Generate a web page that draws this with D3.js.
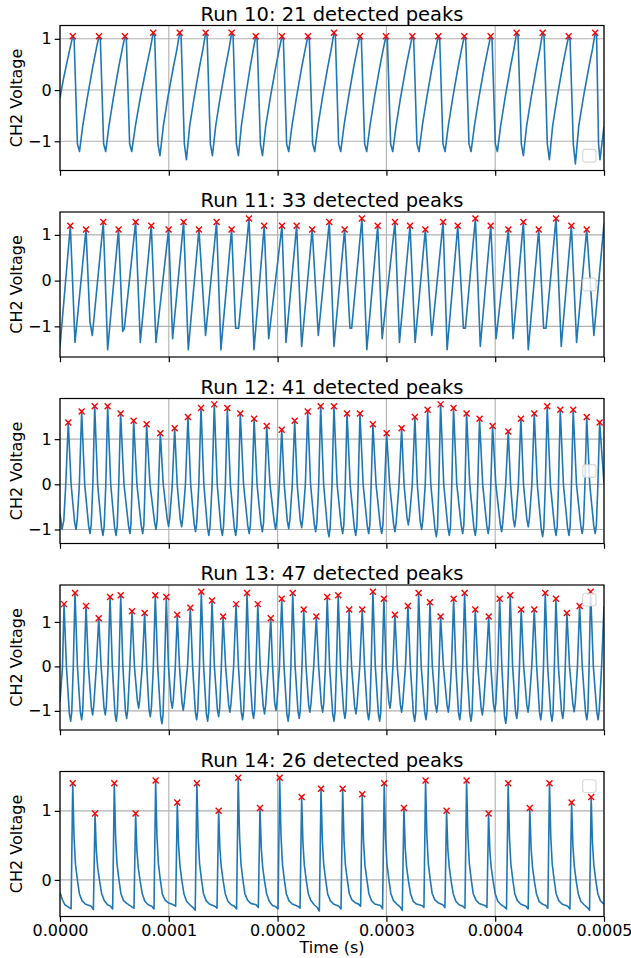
<!DOCTYPE html>
<html>
<head>
<meta charset="utf-8">
<script src="https://cdn.jsdelivr.net/npm/d3@7"></script>
<style>
  body { margin: 0; background: #fff; }
  text { font-family: "DejaVu Sans", sans-serif; }
</style>
</head>
<body>
<svg id="chart"></svg>
<script>
// time in microseconds, voltage in V

const runIds = [10, 11, 12, 13, 14];
const xTicks = [0, 0.0001, 0.0002, 0.0003, 0.0004, 0.0005];
const yTicks = [[-1, 0, 1], [-1, 0, 1], [-1, 0, 1], [-1, 0, 1], [0, 1]];
const yLimits = [[-1.57, 1.26], [-1.67, 1.50], [-1.31, 1.90], [-1.43, 1.83], [-0.53, 1.57]];
const legendLoc = ["lower right", "center right", "center right", "upper right", "upper right"];

const run10PeakTimes = [11.7,35.8,59.7,85.7,110.0,133.9,157.8,179.9,204.0,227.9,251.8,275.7,299.6,323.8,347.7,371.6,395.8,419.7,443.6,467.5,491.9];
const run10PeakVolts = [1.05,1.05,1.05,1.12,1.12,1.12,1.12,1.05,1.05,1.05,1.12,1.05,1.05,1.05,1.05,1.05,1.05,1.12,1.12,1.05,1.12];
const run10Trace = [
  [0,-0.15],[3,0.2],[6,0.5],[9,0.8],
  [11.7,1.05],[13.0,0.98],[16.0,-1.05],[17.9,-1.2],[20.9,-0.7],[25.1,-0.15],[30.1,0.45],[33.3,0.8],
  [35.8,1.05],[37.1,0.98],[40.1,-1.05],[42.0,-1.2],[45.0,-0.7],[49.1,-0.15],[54.0,0.45],[57.2,0.8],
  [59.7,1.05],[61.0,0.98],[64.0,-1.05],[65.9,-1.2],[69.3,-0.7],[73.8,-0.15],[79.4,0.45],[82.9,0.8],
  [85.7,1.12],[87.0,1.05],[90.0,-1.05],[91.9,-1.28],[95.0,-0.7],[99.1,-0.15],[104.2,0.45],[107.5,0.8],
  [110.0,1.12],[111.3,1.05],[114.3,-1.05],[116.2,-1.36],[119.2,-0.7],[123.3,-0.15],[128.2,0.45],[131.4,0.8],
  [133.9,1.12],[135.2,1.05],[138.2,-1.05],[140.1,-1.28],[143.1,-0.7],[147.2,-0.15],[152.1,0.45],[155.3,0.8],
  [157.8,1.12],[159.1,1.05],[162.1,-1.05],[164.0,-1.28],[166.7,-0.7],[170.4,-0.15],[174.8,0.45],[177.7,0.8],
  [179.9,1.05],[181.2,0.98],[184.2,-1.05],[186.1,-1.28],[189.1,-0.7],[193.3,-0.15],[198.3,0.45],[201.5,0.8],
  [204.0,1.05],[205.3,0.98],[208.3,-1.05],[210.2,-1.2],[213.2,-0.7],[217.3,-0.15],[222.2,0.45],[225.4,0.8],
  [227.9,1.05],[229.2,0.98],[232.2,-1.05],[234.1,-1.2],[237.1,-0.7],[241.2,-0.15],[246.1,0.45],[249.3,0.8],
  [251.8,1.12],[253.1,1.05],[256.1,-1.05],[258.0,-1.2],[261.0,-0.7],[265.1,-0.15],[270.0,0.45],[273.2,0.8],
  [275.7,1.05],[277.0,0.98],[280.0,-1.05],[281.9,-1.2],[284.9,-0.7],[289.0,-0.15],[293.9,0.45],[297.1,0.8],
  [299.6,1.05],[300.9,0.98],[303.9,-1.05],[305.8,-1.2],[308.9,-0.7],[313.0,-0.15],[318.0,0.45],[321.3,0.8],
  [323.8,1.05],[325.1,0.98],[328.1,-1.05],[330.0,-1.2],[333.0,-0.7],[337.1,-0.15],[342.0,0.45],[345.2,0.8],
  [347.7,1.05],[349.0,0.98],[352.0,-1.05],[353.9,-1.2],[356.9,-0.7],[361.0,-0.15],[365.9,0.45],[369.1,0.8],
  [371.6,1.05],[372.9,0.98],[375.9,-1.05],[377.8,-1.2],[380.9,-0.7],[385.0,-0.15],[390.0,0.45],[393.3,0.8],
  [395.8,1.05],[397.1,0.98],[400.1,-1.05],[402.0,-1.2],[405.0,-0.7],[409.1,-0.15],[414.0,0.45],[417.2,0.8],
  [419.7,1.12],[421.0,1.05],[424.0,-1.05],[425.9,-1.28],[428.9,-0.7],[433.0,-0.15],[437.9,0.45],[441.1,0.8],
  [443.6,1.12],[444.9,1.05],[447.9,-1.05],[449.8,-1.36],[452.8,-0.7],[456.9,-0.15],[461.8,0.45],[465.0,0.8],
  [467.5,1.05],[468.8,0.98],[471.8,-1.05],[473.7,-1.44],[476.8,-0.7],[481.0,-0.15],[486.1,0.45],[489.4,0.8],
  [491.9,1.12],[493.2,1.05],[495.0,-1.05],[496.3,-1.36],[500,-0.71]
];

const run11PeakTimes = [9.5,23.9,39.8,53.8,69.5,83.9,99.8,113.6,127.7,143.9,157.7,173.7,187.7,204.0,217.5,231.8,247.5,261.6,277.5,292.0,307.9,321.7,335.8,352.1,365.6,381.8,395.9,412.1,425.9,440.0,455.9,470.0,484.1];
const run11PeakVolts = [1.20,1.12,1.28,1.12,1.28,1.20,1.12,1.28,1.12,1.28,1.12,1.36,1.20,1.20,1.20,1.12,1.28,1.12,1.36,1.20,1.28,1.20,1.12,1.28,1.20,1.36,1.20,1.12,1.28,1.12,1.36,1.20,1.12];
const run11Trace = [
  [0,-1.44],[9.5,1.20],[13.8,-1.35],[23.9,1.12],[27.5,-0.89],[29.7,-1.2],[39.8,1.28],[43.8,-1.51],
  [53.8,1.12],[57.6,-1.11],[59.1,-1.05],[69.5,1.28],[73.8,-1.35],[83.9,1.20],[88.2,-1.35],[99.8,1.12],
  [103.5,-1.27],[113.6,1.28],[117.9,-1.51],[127.7,1.12],[133.8,-1.2],[143.9,1.28],[147.9,-1.51],[157.7,1.12],
  [161.4,-1.04],[164.2,-1.04],[173.7,1.36],[178.3,-1.51],[187.7,1.20],[191.8,-1.27],[204.0,1.20],[207.7,-1.35],
  [217.5,1.20],[222.1,-1.44],[231.8,1.12],[237.4,-1.2],[247.5,1.28],[251.8,-1.44],[261.6,1.12],[266.5,-1.04],
  [268.1,-1.04],[277.5,1.36],[282.0,-1.51],[292.0,1.20],[296.1,-1.27],[307.9,1.28],[312.0,-1.35],[321.7,1.20],
  [326.4,-1.35],[335.8,1.12],[341.7,-1.2],[352.1,1.28],[355.8,-1.51],[365.6,1.20],[370.8,-1.04],[372.6,-1.04],
  [381.8,1.36],[386.3,-1.44],[395.9,1.20],[400.8,-1.27],[412.1,1.12],[416.4,-1.27],[425.9,1.28],[430.4,-1.51],
  [440.0,1.12],[444.5,-1.04],[446.7,-1.04],[455.9,1.36],[460.7,-1.44],[470.0,1.20],[474.8,-1.35],[484.1,1.12],
  [490.7,-1.2],[500,1.25]
];

const run12PeakTimes = [7.6,19.9,31.9,43.8,55.7,67.7,79.6,92.2,105.4,117.6,129.6,141.8,153.8,165.7,178.4,190.0,203.8,215.7,227.7,239.6,251.8,263.8,275.7,287.6,300.2,314.0,326.2,337.9,349.8,361.7,373.7,385.6,397.6,412.0,423.6,435.9,447.8,459.8,471.7,484.1,496.0];
const run12PeakVolts = [1.37,1.61,1.73,1.73,1.57,1.41,1.33,1.13,1.24,1.49,1.69,1.77,1.69,1.57,1.45,1.29,1.21,1.41,1.61,1.73,1.73,1.57,1.57,1.33,1.13,1.24,1.49,1.65,1.77,1.69,1.57,1.45,1.29,1.17,1.45,1.57,1.73,1.65,1.65,1.49,1.37];
const run12Trace = [
  [0,-0.64],[1.8,-1.0],[3.5,-0.8],[5.3,0],
  [7.6,1.37],[10.2,0],[13.4,-0.83],[14.7,-1.0],[15.8,-0.8],[17.8,0],
  [19.9,1.61],[22.7,0],[26.3,-0.92],[27.6,-1.09],[28.7,-0.89],[30.2,0],
  [31.9,1.73],[34.6,0],[38.2,-0.96],[39.5,-1.13],[40.6,-0.93],[42.1,0],
  [43.8,1.73],[46.6,0],[50.2,-0.96],[51.5,-1.13],[52.6,-0.93],[54.0,0],
  [55.7,1.57],[58.8,0],[63.0,-0.92],[64.3,-1.09],[65.2,-0.89],[66.3,0],
  [67.7,1.41],[70.7,0],[74.7,-0.92],[76.0,-1.09],[77.1,-0.89],[78.2,0],
  [79.6,1.33],[82.7,0],[86.9,-0.83],[88.2,-1.0],[89.3,-0.8],[90.6,0],
  [92.2,1.13],[94.9,0],[98.5,-0.76],[99.8,-0.93],[100.9,-0.73],[103.2,0],
  [105.4,1.24],[107.7,0],[110.5,-0.77],[111.8,-0.94],[112.9,-0.74],[115.3,0],
  [117.6,1.49],[120.1,0],[123.3,-0.88],[124.6,-1.05],[125.7,-0.85],[127.6,0],
  [129.6,1.69],[132.2,0],[135.5,-0.96],[136.8,-1.13],[137.9,-0.93],[139.8,0],
  [141.8,1.77],[144.5,0],[147.9,-0.96],[149.2,-1.13],[150.3,-0.93],[152.0,0],
  [153.8,1.69],[156.6,0],[160.2,-0.96],[161.5,-1.13],[162.6,-0.93],[164.0,0],
  [165.7,1.57],[168.7,0],[172.6,-0.92],[173.9,-1.09],[175.0,-0.89],[176.6,0],
  [178.4,1.45],[181.1,0],[184.7,-0.88],[186.0,-1.05],[187.1,-0.85],[188.4,0],
  [190.0,1.29],[193.0,0],[196.9,-0.83],[198.2,-1.0],[199.3,-0.8],[201.6,0],
  [203.8,1.21],[206.1,0],[208.9,-0.81],[210.2,-0.98],[211.3,-0.78],[213.5,0],
  [215.7,1.41],[218.0,0],[220.8,-0.79],[222.1,-0.96],[223.2,-0.76],[225.5,0],
  [227.7,1.61],[230.3,0],[233.7,-0.88],[235.0,-1.05],[236.1,-0.85],[237.8,0],
  [239.6,1.73],[242.3,0],[245.9,-0.99],[247.2,-1.16],[248.3,-0.96],[250.0,0],
  [251.8,1.73],[254.7,0],[258.5,-0.92],[259.8,-1.09],[260.9,-0.89],[262.2,0],
  [263.8,1.57],[266.7,0],[270.5,-0.96],[271.8,-1.13],[272.9,-0.93],[274.1,0],
  [275.7,1.57],[278.6,0],[282.4,-0.92],[283.7,-1.09],[284.8,-0.89],[286.0,0],
  [287.6,1.33],[290.5,0],[294.4,-0.92],[295.7,-1.09],[296.8,-0.89],[298.4,0],
  [300.2,1.13],[303.0,0],[306.6,-0.88],[307.9,-1.05],[309.0,-0.85],[311.6,0],
  [314.0,1.24],[316.2,0],[318.9,-0.73],[320.2,-0.9],[321.3,-0.7],[323.8,0],
  [326.2,1.49],[328.4,0],[331.1,-0.83],[332.4,-1.0],[333.5,-0.8],[335.7,0],
  [337.9,1.65],[340.8,0],[344.6,-0.99],[345.9,-1.16],[347.0,-0.96],[348.2,0],
  [349.8,1.77],[352.7,0],[356.5,-0.96],[357.8,-1.13],[358.9,-0.93],[360.1,0],
  [361.7,1.69],[364.7,0],[368.8,-0.92],[370.1,-1.09],[371.2,-0.89],[372.3,0],
  [373.7,1.57],[376.6,0],[380.4,-0.96],[381.7,-1.13],[382.8,-0.93],[384.0,0],
  [385.6,1.45],[388.5,0],[392.3,-0.92],[393.6,-1.09],[394.7,-0.89],[396.0,0],
  [397.6,1.29],[400.6,0],[404.6,-0.88],[405.9,-1.05],[407.0,-0.85],[409.6,0],
  [412.0,1.17],[414.1,0],[416.6,-0.77],[417.9,-0.94],[419.0,-0.74],[421.3,0],
  [423.6,1.45],[426.0,0],[429.1,-0.77],[430.4,-0.94],[431.5,-0.74],[433.7,0],
  [435.9,1.57],[438.7,0],[442.3,-0.99],[443.6,-1.16],[444.7,-0.96],[446.1,0],
  [447.8,1.73],[450.7,0],[454.6,-0.96],[455.9,-1.13],[457.0,-0.93],[458.2,0],
  [459.8,1.65],[462.7,0],[466.5,-0.96],[467.8,-1.13],[468.9,-0.93],[470.1,0],
  [471.7,1.65],[474.7,0],[478.7,-0.92],[480.0,-1.09],[481.1,-0.89],[482.5,0],
  [484.1,1.49],[486.9,0],[490.6,-0.92],[491.9,-1.09],[493.0,-0.89],[494.4,0],
  [496.0,1.37],[500,0.02]
];

const run13PeakTimes = [3.7,13.8,23.9,35.6,46.0,55.8,66.2,77.8,87.6,97.7,107.8,119.8,129.9,139.7,149.9,161.8,171.9,181.8,193.7,203.8,213.9,224.0,235.6,245.6,255.7,265.8,277.8,287.6,297.7,307.8,319.8,329.6,340.0,349.8,361.8,371.9,381.7,394.0,404.1,413.8,423.9,435.9,446.0,455.8,465.9,477.6,487.7];
const run13PeakVolts = [1.40,1.65,1.36,1.08,1.56,1.60,1.24,1.20,1.60,1.56,1.16,1.32,1.68,1.48,1.12,1.40,1.65,1.40,1.08,1.52,1.65,1.28,1.12,1.56,1.60,1.28,1.28,1.68,1.52,1.16,1.36,1.65,1.44,1.12,1.52,1.65,1.28,1.12,1.52,1.60,1.28,1.28,1.65,1.52,1.20,1.36,1.68];
const run13Trace = [
  [0,-0.8],[2.3,0],
  [3.7,1.40],[5.9,0],[8.6,-1.06],[9.8,-1.23],[10.8,-1.03],[12.2,0],
  [13.8,1.65],[16.0,0],[18.7,-1.03],[19.9,-1.20],[20.9,-1.0],[22.3,0],
  [23.9,1.36],[26.1,0],[28.8,-0.92],[30.0,-1.09],[31.0,-0.89],[33.4,0],
  [35.6,1.08],[37.8,0],[40.4,-0.92],[41.6,-1.09],[42.6,-0.89],[44.2,0],
  [46.0,1.56],[48.1,0],[50.5,-1.06],[51.7,-1.23],[52.7,-1.03],[54.2,0],
  [55.8,1.60],[57.8,0],[60.1,-1.0],[61.3,-1.17],[62.3,-0.97],[64.2,0],
  [66.2,1.24],[68.4,0],[71.1,-0.77],[72.3,-0.94],[73.3,-0.74],[75.6,0],
  [77.8,1.20],[79.7,0],[81.8,-0.96],[83.0,-1.13],[84.0,-0.93],[85.8,0],
  [87.6,1.60],[89.8,0],[92.5,-1.12],[93.7,-1.29],[94.7,-1.09],[96.1,0],
  [97.7,1.56],[99.7,0],[102.0,-0.77],[103.2,-0.94],[104.2,-0.74],[106.0,0],
  [107.8,1.16],[109.8,0],[112.1,-0.82],[113.3,-0.99],[114.3,-0.79],[117.2,0],
  [119.8,1.32],[121.9,0],[124.4,-1.03],[125.6,-1.20],[126.6,-1.0],[128.2,0],
  [129.9,1.68],[132.0,0],[134.5,-1.06],[135.7,-1.23],[136.7,-1.03],[138.1,0],
  [139.7,1.48],[141.9,0],[144.6,-0.96],[145.8,-1.13],[146.8,-0.93],[148.3,0],
  [149.9,1.12],[152.2,0],[155.0,-0.86],[156.2,-1.03],[157.2,-0.83],[159.6,0],
  [161.8,1.40],[164.0,0],[166.6,-1.03],[167.8,-1.20],[168.8,-1.0],[170.3,0],
  [171.9,1.65],[174.1,0],[176.7,-1.0],[177.9,-1.17],[178.9,-0.97],[180.2,0],
  [181.8,1.40],[184.0,0],[186.8,-0.9],[188.0,-1.07],[189.0,-0.87],[191.4,0],
  [193.7,1.08],[195.4,0],[197.3,-0.82],[198.5,-0.99],[199.5,-0.79],[201.7,0],
  [203.8,1.52],[205.9,0],[208.5,-1.06],[209.7,-1.23],[210.7,-1.03],[212.2,0],
  [213.9,1.65],[216.1,0],[218.7,-1.0],[219.9,-1.17],[220.9,-0.97],[222.4,0],
  [224.0,1.28],[226.1,0],[228.5,-0.86],[229.7,-1.03],[230.7,-0.83],[233.2,0],
  [235.6,1.12],[237.7,0],[240.2,-0.86],[241.4,-1.03],[242.4,-0.83],[243.9,0],
  [245.6,1.56],[247.8,0],[250.6,-1.06],[251.8,-1.23],[252.8,-1.03],[254.1,0],
  [255.7,1.60],[257.9,0],[260.7,-1.0],[261.9,-1.17],[262.9,-0.97],[264.2,0],
  [265.8,1.28],[268.0,0],[270.8,-0.9],[272.0,-1.07],[273.0,-0.87],[275.5,0],
  [277.8,1.28],[279.9,0],[282.5,-1.03],[283.7,-1.20],[284.7,-1.0],[286.0,0],
  [287.6,1.68],[289.8,0],[292.6,-1.06],[293.8,-1.23],[294.8,-1.03],[296.1,0],
  [297.7,1.52],[299.7,0],[302.1,-0.77],[303.3,-0.94],[304.3,-0.74],[306.0,0],
  [307.8,1.16],[310.0,0],[312.8,-0.86],[314.0,-1.03],[315.0,-0.83],[317.5,0],
  [319.8,1.36],[322.0,0],[324.8,-1.06],[326.0,-1.23],[327.0,-1.03],[328.2,0],
  [329.6,1.65],[332.0,0],[335.2,-1.03],[336.4,-1.20],[337.4,-1.0],[338.6,0],
  [340.0,1.44],[342.2,0],[345.0,-0.86],[346.2,-1.03],[347.2,-0.83],[348.4,0],
  [349.8,1.12],[352.4,0],[355.7,-0.86],[356.9,-1.03],[357.9,-0.83],[359.8,0],
  [361.8,1.52],[363.8,0],[366.2,-1.03],[367.4,-1.20],[368.4,-1.0],[370.1,0],
  [371.9,1.65],[374.0,0],[376.6,-1.06],[377.8,-1.23],[378.8,-1.03],[380.1,0],
  [381.7,1.28],[384.0,0],[387.0,-0.92],[388.2,-1.09],[389.2,-0.89],[391.7,0],
  [394.0,1.12],[396.0,0],[398.4,-0.85],[399.6,-1.02],[400.6,-0.82],[402.3,0],
  [404.1,1.52],[406.1,0],[408.5,-1.11],[409.7,-1.28],[410.7,-1.08],[412.2,0],
  [413.8,1.60],[416.0,0],[418.6,-1.0],[419.8,-1.17],[420.8,-0.97],[422.3,0],
  [423.9,1.28],[426.2,0],[429.0,-0.86],[430.2,-1.03],[431.2,-0.83],[433.6,0],
  [435.9,1.28],[438.1,0],[440.7,-1.03],[441.9,-1.20],[442.9,-1.0],[444.4,0],
  [446.0,1.65],[448.2,0],[451.0,-1.06],[452.2,-1.23],[453.2,-1.03],[454.4,0],
  [455.8,1.52],[458.1,0],[460.9,-1.0],[462.1,-1.17],[463.1,-0.97],[464.4,0],
  [465.9,1.20],[468.3,0],[471.4,-0.85],[472.6,-1.02],[473.6,-0.82],[475.6,0],
  [477.6,1.36],[480.0,0],[483.0,-1.03],[484.2,-1.20],[485.2,-1.0],[486.3,0],
  [487.7,1.68],[490.2,0],[493.4,-1.03],[494.6,-1.20],[495.6,-1.0],[497.8,0],[500,1.35]
];

const run14PeakTimes = [11.7,32.2,49.9,69.5,87.9,107.8,125.8,145.8,163.8,183.8,201.9,222.1,239.9,259.8,277.8,298.0,316.1,336.0,355.3,373.7,393.9,411.9,431.8,449.9,470.2,488.2];
const run14PeakVolts = [1.40,0.96,1.40,0.96,1.44,1.12,1.40,1.0,1.48,1.04,1.48,1.20,1.32,1.32,1.24,1.40,1.04,1.44,1.0,1.44,0.96,1.40,1.04,1.40,1.12,1.20];
const run14Trace = [
  [0,-0.18],[2,-0.28],[4.5,-0.36],[7.5,-0.39],[10.2,-0.42],
  [11.7,1.40],[12.9,0.62],[14.2,0.23],[16.0,0],[17.8,-0.2],[20.2,-0.3],[23.2,-0.35],[28.7,-0.38],[30.7,-0.43],
  [32.2,0.96],[33.4,0.42],[34.7,0.17],[36.5,-0.03],[38.3,-0.2],[40.7,-0.3],[43.7,-0.36],[46.4,-0.38],[48.4,-0.42],
  [49.9,1.40],[51.1,0.62],[52.4,0.23],[54.2,0],[56.0,-0.2],[58.4,-0.3],[61.4,-0.34],[66.0,-0.39],[68.0,-0.41],
  [69.5,0.96],[70.7,0.42],[72.0,0.17],[73.8,-0.03],[75.6,-0.2],[78.0,-0.31],[81.0,-0.36],[84.4,-0.38],[86.4,-0.42],
  [87.9,1.44],[89.1,0.64],[90.4,0.24],[92.2,0],[94.0,-0.2],[96.4,-0.29],[99.4,-0.33],[104.3,-0.36],[106.3,-0.38],
  [107.8,1.12],[109.0,0.5],[110.3,0.2],[112.1,-0.02],[113.9,-0.2],[116.3,-0.31],[119.3,-0.36],[122.3,-0.4],[124.3,-0.44],
  [125.8,1.40],[127.0,0.62],[128.3,0.23],[130.1,0],[131.9,-0.2],[134.3,-0.3],[137.3,-0.35],[142.3,-0.38],[144.3,-0.41],
  [145.8,1.0],[147.0,0.44],[148.3,0.18],[150.1,-0.03],[151.9,-0.2],[154.3,-0.31],[157.3,-0.36],[160.3,-0.38],[162.3,-0.42],
  [163.8,1.48],[165.0,0.65],[166.3,0.24],[168.1,0],[169.9,-0.2],[172.3,-0.29],[175.3,-0.34],[180.3,-0.36],[182.3,-0.40],
  [183.8,1.04],[185.0,0.46],[186.3,0.18],[188.1,-0.03],[189.9,-0.2],[192.3,-0.31],[195.3,-0.37],[198.4,-0.39],[200.4,-0.42],
  [201.9,1.48],[203.1,0.65],[204.4,0.24],[206.2,0],[208.0,-0.2],[210.4,-0.3],[213.4,-0.35],[218.6,-0.38],[220.6,-0.41],
  [222.1,1.20],[223.3,0.53],[224.6,0.21],[226.4,-0.01],[228.2,-0.2],[230.6,-0.3],[233.6,-0.36],[236.4,-0.4],[238.4,-0.45],
  [239.9,1.32],[241.1,0.58],[242.4,0.22],[244.2,0],[246.0,-0.2],[248.4,-0.3],[251.4,-0.35],[256.3,-0.38],[258.3,-0.42],
  [259.8,1.32],[261.0,0.58],[262.3,0.22],[264.1,0],[265.9,-0.2],[268.3,-0.29],[271.3,-0.33],[274.3,-0.35],[276.3,-0.38],
  [277.8,1.24],[279.0,0.55],[280.3,0.21],[282.1,0],[283.9,-0.2],[286.3,-0.3],[289.3,-0.35],[294.5,-0.37],[296.5,-0.42],
  [298.0,1.40],[299.2,0.62],[300.5,0.23],[302.3,0],[304.1,-0.2],[306.5,-0.3],[309.5,-0.35],[312.6,-0.39],[314.6,-0.44],
  [316.1,1.04],[317.3,0.46],[318.6,0.18],[320.4,-0.03],[322.2,-0.2],[324.6,-0.31],[327.6,-0.35],[332.5,-0.37],[334.5,-0.4],
  [336.0,1.44],[337.2,0.64],[338.5,0.24],[340.3,0],[342.1,-0.2],[344.5,-0.29],[347.5,-0.33],[351.8,-0.36],[353.8,-0.4],
  [355.3,1.0],[356.5,0.44],[357.8,0.18],[359.6,-0.03],[361.4,-0.2],[363.8,-0.31],[366.8,-0.36],[370.2,-0.38],[372.2,-0.41],
  [373.7,1.44],[374.9,0.64],[376.2,0.24],[378.0,0],[379.8,-0.2],[382.2,-0.29],[385.2,-0.34],[390.4,-0.37],[392.4,-0.4],
  [393.9,0.96],[395.1,0.42],[396.4,0.17],[398.2,-0.03],[400.0,-0.2],[402.4,-0.31],[405.4,-0.36],[408.4,-0.39],[410.4,-0.42],
  [411.9,1.40],[413.1,0.62],[414.4,0.23],[416.2,0],[418.0,-0.2],[420.4,-0.3],[423.4,-0.35],[428.3,-0.38],[430.3,-0.42],
  [431.8,1.04],[433.0,0.46],[434.3,0.18],[436.1,-0.03],[437.9,-0.2],[440.3,-0.31],[443.3,-0.35],[446.4,-0.37],[448.4,-0.41],
  [449.9,1.40],[451.1,0.62],[452.4,0.23],[454.2,0],[456.0,-0.2],[458.4,-0.3],[461.4,-0.35],[466.7,-0.38],[468.7,-0.42],
  [470.2,1.12],[471.4,0.5],[472.7,0.2],[474.5,-0.02],[476.3,-0.2],[478.7,-0.31],[481.7,-0.36],[484.7,-0.4],[486.7,-0.44],
  [488.2,1.20],[489.4,0.53],[490.7,0.21],[492.5,-0.01],[494.3,-0.2],[496.7,-0.3],[500,-0.35]
];

const traces = [run10Trace, run11Trace, run12Trace, run13Trace, run14Trace];
const peakTimes = [run10PeakTimes, run11PeakTimes, run12PeakTimes, run13PeakTimes, run14PeakTimes];
const peakVolts = [run10PeakVolts, run11PeakVolts, run12PeakVolts, run13PeakVolts, run14PeakVolts];

// layout
const width = 631, height = 958;
const left = 60, right = 604;
const firstTop = 25.5, rowStep = 186.5, axH = 145;
const gridColor = "#b0b0b0";

const svg = d3.select("#chart")
    .attr("width", width)
    .attr("height", height);

svg.append("rect")
    .attr("width", width)
    .attr("height", height)
    .attr("fill", "#fff");

const x = d3.scaleLinear().domain([0, 0.0005]).range([left, right]);

runIds.forEach((runId, i) => {
    const top = firstTop + i * rowStep;
    const bottom = top + axH;
    const y = d3.scaleLinear().domain(yLimits[i]).range([bottom, top]);
    const isLast = i === runIds.length - 1;

    const g = svg.append("g");

    // grid
    g.append("g").selectAll("line")
        .data(xTicks)
        .join("line")
        .attr("x1", d => x(d)).attr("x2", d => x(d))
        .attr("y1", top).attr("y2", bottom)
        .attr("stroke", gridColor).attr("stroke-width", 1.1);

    g.append("g").selectAll("line")
        .data(yTicks[i])
        .join("line")
        .attr("x1", left).attr("x2", right)
        .attr("y1", d => y(d)).attr("y2", d => y(d))
        .attr("stroke", gridColor).attr("stroke-width", 1.1);

    // clip
    const clipId = "clip" + runId;
    g.append("clipPath").attr("id", clipId)
        .append("rect")
        .attr("x", left).attr("y", top)
        .attr("width", right - left).attr("height", axH);

    // waveform
    const line = d3.line()
        .x(d => x(d[0] * 1e-6))
        .y(d => y(d[1]));

    g.append("path")
        .datum(traces[i])
        .attr("clip-path", `url(#${clipId})`)
        .attr("fill", "none")
        .attr("stroke", "#1f77b4")
        .attr("stroke-width", 1.6)
        .attr("stroke-linejoin", "round")
        .attr("d", line);

    // detected peaks
    const peaks = peakTimes[i].map((t, k) => ({ t: t, v: peakVolts[i][k] }));
    const s = 3;
    g.append("g").selectAll("path")
        .data(peaks)
        .join("path")
        .attr("transform", d => `translate(${x(d.t * 1e-6)},${y(d.v)})`)
        .attr("d", `M${-s},${-s}L${s},${s}M${-s},${s}L${s},${-s}`)
        .attr("stroke", "red")
        .attr("stroke-width", 1.4)
        .attr("fill", "none");

    // axes
    const yAxis = g.append("g")
        .attr("transform", `translate(${left},0)`)
        .call(d3.axisLeft(y).tickValues(yTicks[i]).tickSize(5.3).tickPadding(3).tickFormat(d3.format("d")));

    const xAxis = g.append("g")
        .attr("transform", `translate(0,${bottom})`)
        .call(d3.axisBottom(x).tickValues(xTicks).tickSize(5.3).tickPadding(3.3)
            .tickFormat(isLast ? d3.format(".4f") : () => ""));

    [yAxis, xAxis].forEach(a => {
        a.select(".domain").remove();
        a.selectAll(".tick line").attr("stroke", "#000").attr("stroke-width", 1.2);
        a.selectAll(".tick text")
            .attr("fill", "#000")
            .style("font-size", "16px")
            .style("font-family", "'DejaVu Sans', sans-serif");
    });

    // spines
    g.append("rect")
        .attr("x", left).attr("y", top)
        .attr("width", right - left).attr("height", axH)
        .attr("fill", "none")
        .attr("stroke", "#000")
        .attr("stroke-width", 1.2);

    // empty legend frame
    const lw = 13.3, lh = 12.7;
    let ly;
    if (legendLoc[i] === "lower right") ly = bottom - 8.4 - lh;
    else if (legendLoc[i] === "upper right") ly = top + 8.3;
    else ly = top + axH / 2 - lh / 2;
    g.append("rect")
        .attr("x", right - 8 - lw).attr("y", ly)
        .attr("width", lw).attr("height", lh)
        .attr("rx", 2.5)
        .attr("fill", "#fff").attr("fill-opacity", 0.8)
        .attr("stroke", "#cccccc").attr("stroke-opacity", 0.8)
        .attr("stroke-width", 1.1);

    // title
    g.append("text")
        .attr("x", (left + right) / 2)
        .attr("y", top - 5)
        .attr("text-anchor", "middle")
        .style("font-size", "19.5px")
        .text(`Run ${runId}: ${peaks.length} detected peaks`);

    // y label
    g.append("text")
        .attr("transform", `translate(21.5,${top + axH / 2}) rotate(-90)`)
        .attr("text-anchor", "middle")
        .style("font-size", "16px")
        .text("CH2 Voltage");
});

svg.append("text")
    .attr("x", (left + right) / 2)
    .attr("y", 953)
    .attr("text-anchor", "middle")
    .style("font-size", "16px")
    .text("Time (s)");
</script>
</body>
</html>
